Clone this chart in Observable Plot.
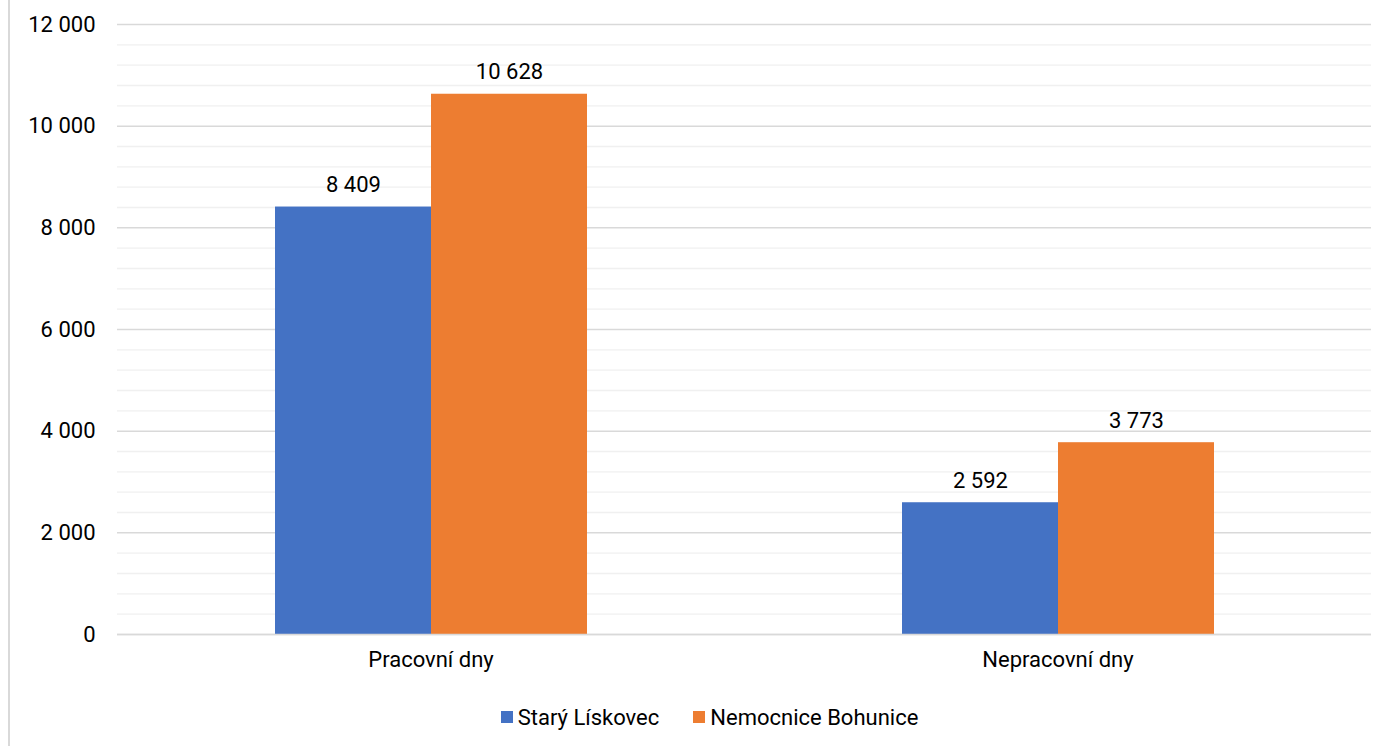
<!DOCTYPE html>
<html><head><meta charset="utf-8">
<script src="https://cdn.jsdelivr.net/npm/d3@7"></script>
<script src="https://cdn.jsdelivr.net/npm/@observablehq/plot@0.6"></script>
<style>
html,body{margin:0;padding:0;background:#fff;}
#wrap{position:relative;width:1391px;height:746px;font-family:Roboto,sans-serif;}
#frame{position:absolute;left:8px;top:0;width:2px;height:746px;background:#d9d9d9;}
#chart{position:absolute;left:0;top:0;}
#legend{position:absolute;left:14px;top:703px;width:1391px;text-align:center;font-size:22px;color:#000;}
#legend span.item{display:inline-flex;align-items:center;margin:0 17px;}
#legend span.sw{display:inline-block;width:12px;height:12px;margin-right:5px;}
</style></head>
<body><div id="wrap"><div id="frame"></div><div id="chart"></div><div id="legend"></div></div>
<script>
const categories = ["Pracovní dny", "Nepracovní dny"];
const series = ["Starý Lískovec", "Nemocnice Bohunice"];
const colors = ["#4472C4", "#ED7D31"];
const staryLiskovec = [8409, 2592];
const nemocniceBohunice = [10628, 3773];
const majorTicks = [0, 2000, 4000, 6000, 8000, 10000, 12000];
const minorTicks = d3.range(0, 12001, 400).filter(v => v % 2000 !== 0);

const data = [];
categories.forEach((c, i) => {
  data.push({cat: c, series: series[0], value: staryLiskovec[i]});
  data.push({cat: c, series: series[1], value: nemocniceBohunice[i]});
});
const loc = d3.formatLocale({decimal: ",", thousands: "\u00a0", grouping: [3], currency: ["", ""]});
const fmt = loc.format(",d");

const chart = Plot.plot({
  width: 1391,
  height: 690,
  marginLeft: 117,
  marginRight: 20,
  marginTop: 24,
  marginBottom: 56,
  style: {fontFamily: "Roboto, sans-serif", fontSize: "22px", color: "#000"},
  fx: {domain: categories, padding: 0, label: null, axis: "bottom", tickSize: 0, tickPadding: 17},
  x: {domain: series, paddingInner: 0, paddingOuter: 1, axis: null},
  y: {domain: [0, 12000], axis: null},
  color: {domain: series, range: colors},
  marks: [
    Plot.ruleY(minorTicks, {stroke: "#f0f0f0", strokeWidth: 1.3}),
    Plot.ruleY(majorTicks, {stroke: "#d9d9d9", strokeWidth: 1.5}),
    Plot.axisY({ticks: majorTicks, tickFormat: fmt, tickSize: 0, tickPadding: 22, facetAnchor: "left", label: null, fontSize: 22}),
    Plot.barY(data, {fx: "cat", x: "series", y: "value", fill: "series", inset: 0}),
    Plot.text(data, {fx: "cat", x: "series", y: "value", text: d => fmt(d.value), dy: -22, fill: "#000", fontSize: 22}),
    Plot.ruleY([0], {stroke: "#d9d9d9", strokeWidth: 1.5})
  ]
});
document.getElementById("chart").appendChild(chart);

const lg = document.getElementById("legend");
series.forEach((s, i) => {
  const it = document.createElement("span"); it.className = "item";
  const sw = document.createElement("span"); sw.className = "sw"; sw.style.background = colors[i];
  it.appendChild(sw); it.appendChild(document.createTextNode(s));
  lg.appendChild(it);
});
</script></body></html>
